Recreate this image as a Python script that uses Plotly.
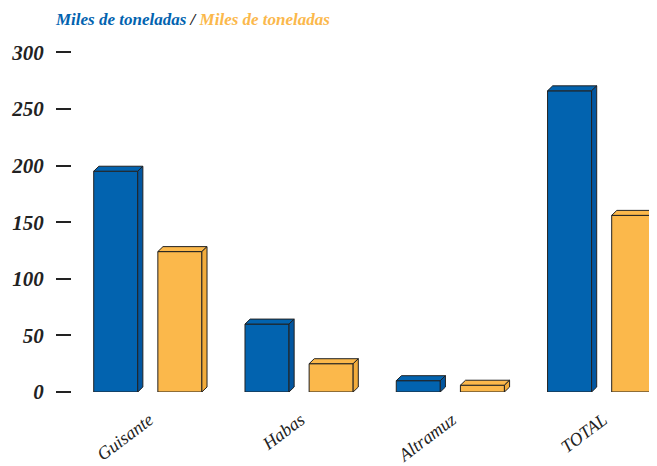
import plotly.graph_objects as go

# Miles de toneladas, two series per crop
categories = ["Guisante", "Habas", "Altramuz", "TOTAL"]
serie_azul = [195, 60, 10, 266]
serie_naranja = [124, 25, 6, 156]

AZUL = "#0263AF"
AZUL_LADO = "#0256A0"
NARANJA = "#FBB84B"
NARANJA_LADO = "#F2AC3C"
BORDE = "#222222"

pos = list(range(len(categories)))
w = 0.291          # bar width (x units)
off = 0.212        # offset of each bar from group centre
dx, dy = 0.034, 4.4  # 3D depth in x / y units

fig = go.Figure()


def add_bars(xs, vals, color, side_color, name):
    fig.add_trace(go.Bar(
        x=xs, y=vals, width=w, name=name,
        marker=dict(color=color, line=dict(color=BORDE, width=1)),
        showlegend=False,
    ))
    # top and side faces built from each bar's value
    for x, v in zip(xs, vals):
        l, r = x - w / 2, x + w / 2
        fig.add_trace(go.Scatter(
            x=[l, l + dx, r + dx, r, l], y=[v, v + dy, v + dy, v, v],
            mode="lines", fill="toself", fillcolor=color,
            line=dict(color=BORDE, width=1), showlegend=False, hoverinfo="skip",
        ))
        fig.add_trace(go.Scatter(
            x=[r, r + dx, r + dx, r, r], y=[0, dy, v + dy, v, 0],
            mode="lines", fill="toself", fillcolor=side_color,
            line=dict(color=BORDE, width=1), showlegend=False, hoverinfo="skip",
        ))


add_bars([p - off for p in pos], serie_azul, AZUL, AZUL_LADO, "azul")
add_bars([p + off for p in pos], serie_naranja, NARANJA, NARANJA_LADO, "naranja")

# the page body adds 8px around the figure, so the figure is sized to fit inside
fig.update_layout(
    width=649, height=458,
    margin=dict(l=64, r=0, t=33, b=74),
    paper_bgcolor="white", plot_bgcolor="white",
    barmode="overlay",
    xaxis=dict(
        range=[-0.501, 3.366],
        tickvals=[p + 0.01 for p in pos], ticktext=categories,
        tickangle=-37, ticklabelstandoff=13,
        showgrid=False, zeroline=False, showline=False,
        tickfont=dict(family="Liberation Serif", size=18, style="italic", color="#222"),
    ),
    yaxis=dict(
        range=[0, 310], tickvals=[0, 50, 100, 150, 200, 250, 300],
        ticks="outside", ticklen=15, tickwidth=1.5, tickcolor="#222",
        ticklabelstandoff=8,
        showgrid=False, zeroline=False, showline=False,
        tickfont=dict(family="Liberation Serif", size=21, style="italic",
                      weight="bold", color="#222"),
    ),
    annotations=[dict(
        xref="paper", yref="paper", x=-0.033, y=1.062, xanchor="left", yanchor="middle",
        showarrow=False,
        text=(f"<span style='color:{AZUL}'>Miles de toneladas</span>"
              f"<span style='color:#222'> / </span>"
              f"<span style='color:{NARANJA}'>Miles de toneladas</span>"),
        font=dict(family="Liberation Serif", size=17, style="italic", weight="bold"),
    )],
)

fig.write_html("out.html")
